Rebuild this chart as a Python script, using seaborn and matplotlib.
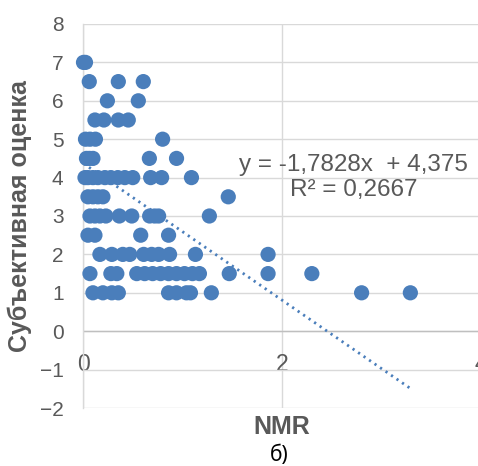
import matplotlib
matplotlib.use("Agg")
import matplotlib.pyplot as plt
import seaborn as sns
import numpy as np
import pandas as pd

# ---- data ----
score_7 = [0.005, 0.025]
score_6_5 = [0.063, 0.355, 0.606]
score_6 = [0.245, 0.556]
score_5_5 = [0.12, 0.21, 0.355, 0.455]
score_5 = [0.025, 0.07, 0.125, 0.80]
score_4_5 = [0.035, 0.065, 0.10, 0.667, 0.94]
score_4 = [0.02, 0.05, 0.10, 0.15, 0.22, 0.28, 0.35, 0.42, 0.50, 0.68, 0.79, 1.09]
score_3_5 = [0.05, 0.10, 0.15, 0.20, 1.46]
score_3 = [0.07, 0.12, 0.17, 0.23, 0.365, 0.49, 0.67, 0.72, 0.76, 1.27]
score_2_5 = [0.05, 0.12, 0.58, 0.86]
score_2 = [0.17, 0.29, 0.40, 0.47, 0.61, 0.69, 0.76, 0.87, 1.13, 1.86]
score_1_5 = [0.07, 0.28, 0.34, 0.54, 0.62, 0.70, 0.78, 0.86, 0.94, 1.02, 1.10, 1.17, 1.47, 1.86, 2.30]
score_1 = [0.10, 0.20, 0.29, 0.355, 0.86, 0.94, 1.04, 1.08, 1.29, 2.80, 3.29]

score_levels = [7, 6.5, 6, 5.5, 5, 4.5, 4, 3.5, 3, 2.5, 2, 1.5, 1]
nmr_by_level = [score_7, score_6_5, score_6, score_5_5, score_5, score_4_5, score_4,
                score_3_5, score_3, score_2_5, score_2, score_1_5, score_1]

trend_slope = -1.7828
trend_intercept = 4.375
equation_text = "y = -1,7828x  + 4,375\nR² = 0,2667"

x_ticks = [0, 2, 4]
y_ticks = [-2, -1, 0, 1, 2, 3, 4, 5, 6, 7, 8]

nmr = []
score = []
for lvl, xs in zip(score_levels, nmr_by_level):
    nmr.extend(xs)
    score.extend([lvl] * len(xs))
df = pd.DataFrame({"NMR": nmr, "score": score})

# ---- figure ----
sns.set_theme(style="white")
plt.rcParams['font.family'] = ['Liberation Sans', 'DejaVu Sans']

fig = plt.figure(figsize=(4.78, 4.66), dpi=100)
ax = fig.add_axes([83 / 478, 58 / 466, 398 / 478, 384 / 466])

gray_text = "#595959"
blue = "#4a7ebb"

sns.scatterplot(data=df, x="NMR", y="score", ax=ax, s=120, color=blue,
                edgecolor="none", linewidth=0, zorder=3, clip_on=False)

xl = np.array([min(nmr), max(nmr)])
ax.plot(xl, trend_slope * xl + trend_intercept, color=blue, lw=2,
        linestyle=(0, (0.8, 1.6)), zorder=4)

ax.set_xlim(0, 4)
ax.set_ylim(-2, 8)
ax.set_xticks(x_ticks)
ax.set_yticks(y_ticks)
ax.grid(True, color="#d9d9d9", lw=1)
ax.axhline(0, color="#bfbfbf", lw=1, zorder=1)

for s in ["top", "right"]:
    ax.spines[s].set_visible(False)
ax.spines["bottom"].set_position(("data", 0))
ax.spines["bottom"].set_visible(False)
ax.spines["left"].set_color("#d9d9d9")
ax.spines["left"].set_linewidth(1)

ax.tick_params(axis="y", length=0, labelsize=15, labelcolor=gray_text, pad=14)
ax.tick_params(axis="x", length=0, labelsize=16.5, labelcolor=gray_text, pad=16)

ax.set_xlabel("")
ax.set_ylabel("")
fig.text(282 / 478, 1 - 427 / 466, "NMR", ha="center", va="center",
         fontsize=18, fontweight="bold", color=gray_text)
fig.text(20 / 478, 1 - 216 / 466, "Субъективная оценка", ha="center", va="center",
         rotation=90, fontsize=18, fontweight="bold", color=gray_text)
fig.text(279 / 478, 1 - 455 / 466, "б)", ha="center", va="center",
         fontsize=15, color="black", family=["Noto Sans", "DejaVu Sans"])

ax.text(2.72, 4.0, equation_text, ha="center", va="center", fontsize=17.5,
        color=gray_text, linespacing=1.2)

fig.savefig("out.png", dpi=100)
